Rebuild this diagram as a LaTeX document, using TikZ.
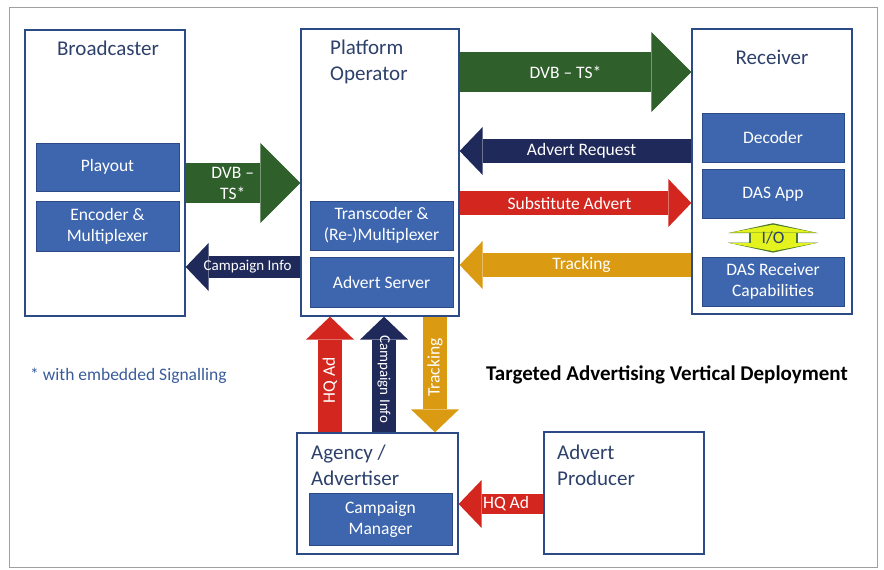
\documentclass[tikz,border=0pt]{standalone}
\usepackage{fontspec}
\setmainfont{Carlito}
\usepackage{tikz}
\usetikzlibrary{arrows.meta,positioning,calc}

\definecolor{boxblue}{HTML}{3E66AE}
\definecolor{edgeblue}{HTML}{2C4A86}
\definecolor{titleblue}{HTML}{2E416B}
\definecolor{noteblue}{HTML}{3A5C9C}
\definecolor{dvbgreen}{HTML}{2F5F2B}
\definecolor{reqnavy}{HTML}{1F2A5A}
\definecolor{subred}{HTML}{D2261F}
\definecolor{trackorange}{HTML}{DA9A12}
\definecolor{ioyellow}{HTML}{E4F21E}
\definecolor{iogreen}{HTML}{4C7A2C}
\definecolor{framegray}{HTML}{A0A0A0}

\newcommand{\headfont}{\fontsize{21}{26}\selectfont}
\newcommand{\labfont}{\fontsize{17.5}{21}\selectfont}
\newcommand{\tinyfont}{\fontsize{15}{18}\selectfont}

\begin{document}
\begin{tikzpicture}[x=1pt,y=-1pt,every node/.style={inner sep=0pt}]
  \tikzstyle{unit}=[draw=edgeblue,line width=1.3pt,fill=white]
  \tikzstyle{part}=[draw=edgeblue,line width=0.8pt,fill=boxblue,text=white,
                    font=\labfont,align=center,minimum width=143pt,minimum height=49pt]
  \tikzstyle{head}=[text=titleblue,font=\headfont,align=left]
  \tikzstyle{tag}=[text=white,font=\labfont]
  \tikzstyle{fat}=[line width=40pt,-{Triangle[width=80pt,length=40pt,line width=0pt]}]
  \tikzstyle{slim}=[line width=24pt,-{Triangle[width=48pt,length=23pt,line width=0pt]}]

  \useasboundingbox (0,0) rectangle (884,570);
  \fill[white] (0,0) rectangle (884,570);
  \draw[framegray,line width=0.8pt] (9,7) rectangle (877,567);

  \node[unit,minimum width=160pt,minimum height=286pt] (bc) at (105,173) {};
  \node[unit,minimum width=158pt,minimum height=287pt] (po) at (380,172.5) {};
  \node[unit,minimum width=160pt,minimum height=285pt] (rx) at (772,171.5) {};
  \node[unit,minimum width=161pt,minimum height=121pt] (ag) at (377.5,493.5) {};
  \node[unit,minimum width=160pt,minimum height=122pt] (pr) at (624,493) {};

  \node[head] (bct) at (108,48) {Broadcaster};
  \node[head,anchor=west] (pot) at (330,61.5) {Platform\\Operator};
  \node[head] (rxt) at (772,57) {Receiver};
  \node[head,anchor=west] (agt) at (311,465) {Agency /\\Advertiser};
  \node[head,anchor=west] (prt) at (557,465) {Advert\\Producer};

  \node[part,minimum height=48pt] (play) at (107.5,167) {Playout};
  \node[part,minimum height=50pt,below=10pt of play] (enc) {Encoder \&\\Multiplexer};
  \node[part] (trans) at (381.5,225.5) {Transcoder \&\\(Re-)Multiplexer};
  \node[part,minimum height=50pt,below=7pt of trans] (adsrv) {Advert Server};
  \node[part,minimum width=142pt] (dec) at (773,137.5) {Decoder};
  \node[part,minimum width=142pt,below=7pt of dec] (app) {DAS App};
  \node[part,minimum width=142pt] (cap) at (773,281.5) {DAS Receiver\\Capabilities};
  \node[part,minimum height=52pt] (cmgr) at (380.5,519) {Campaign\\Manager};

  \node[font=\bfseries\headfont] (ttl) at (667,375) {Targeted Advertising Vertical Deployment};
  \node[text=noteblue,font=\labfont,anchor=west] (note) at (30,376) {* with embedded Signalling};

  % horizontal flows
  \draw[fat,dvbgreen] (bc.east |- 0,183) -- (po.west |- 0,183)
        node[tag,align=center,pos=0.41] {DVB --\\TS*};
  \draw[slim,reqnavy,line width=22pt] (po.west |- 0,267) -- (bc.east |- 0,267)
        node[tag,font=\tinyfont,pos=0.46] {Campaign Info};
  \draw[fat,dvbgreen] (po.east |- 0,72) -- (rx.west |- 0,72)
        node[tag,pos=0.457] {DVB -- TS*};
  \draw[slim,reqnavy] (rx.west |- 0,151) -- (po.east |- 0,151)
        node[tag,pos=0.474] {Advert Request};
  \draw[slim,subred] (po.east |- 0,203) -- (rx.west |- 0,203)
        node[tag,pos=0.474] {Substitute Advert};
  \draw[slim,trackorange] (rx.west |- 0,265) -- (po.east |- 0,265)
        node[tag,pos=0.474] {Tracking};
  \draw[slim,subred,line width=20pt] (pr.west |- 0,504) -- (ag.east |- 0,504)
        node[tag,pos=0.44] {HQ Ad};

  % vertical flows
  \draw[slim,subred] (ag.north -| 330,0) -- (po.south -| 330,0)
        node[tag,rotate=90,pos=0.45] {HQ Ad};
  \draw[slim,reqnavy] (ag.north -| 384,0) -- (po.south -| 384,0)
        node[tag,font=\tinyfont,rotate=-90,pos=0.46] {Campaign Info};
  \draw[slim,trackorange] (po.south -| 435,0) -- (ag.north -| 435,0)
        node[tag,rotate=90,pos=0.44] {Tracking};

  \draw[iogreen,line width=49pt,shorten <=4pt,shorten >=4pt,
        {Triangle[width=91pt,length=10pt,line width=0pt]}-{Triangle[width=91pt,length=10pt,line width=0pt]}]
        (app.south) -- (cap.north);
  \draw[ioyellow,line width=45pt,shorten <=5.5pt,shorten >=5.5pt,
        {Triangle[width=86pt,length=8pt,line width=0pt]}-{Triangle[width=86pt,length=8pt,line width=0pt]}]
        (app.south) -- (cap.north);
  \node[text=titleblue,font=\labfont] (io) at ($(app.south)!0.5!(cap.north)$) {I/O};
\end{tikzpicture}
\end{document}
